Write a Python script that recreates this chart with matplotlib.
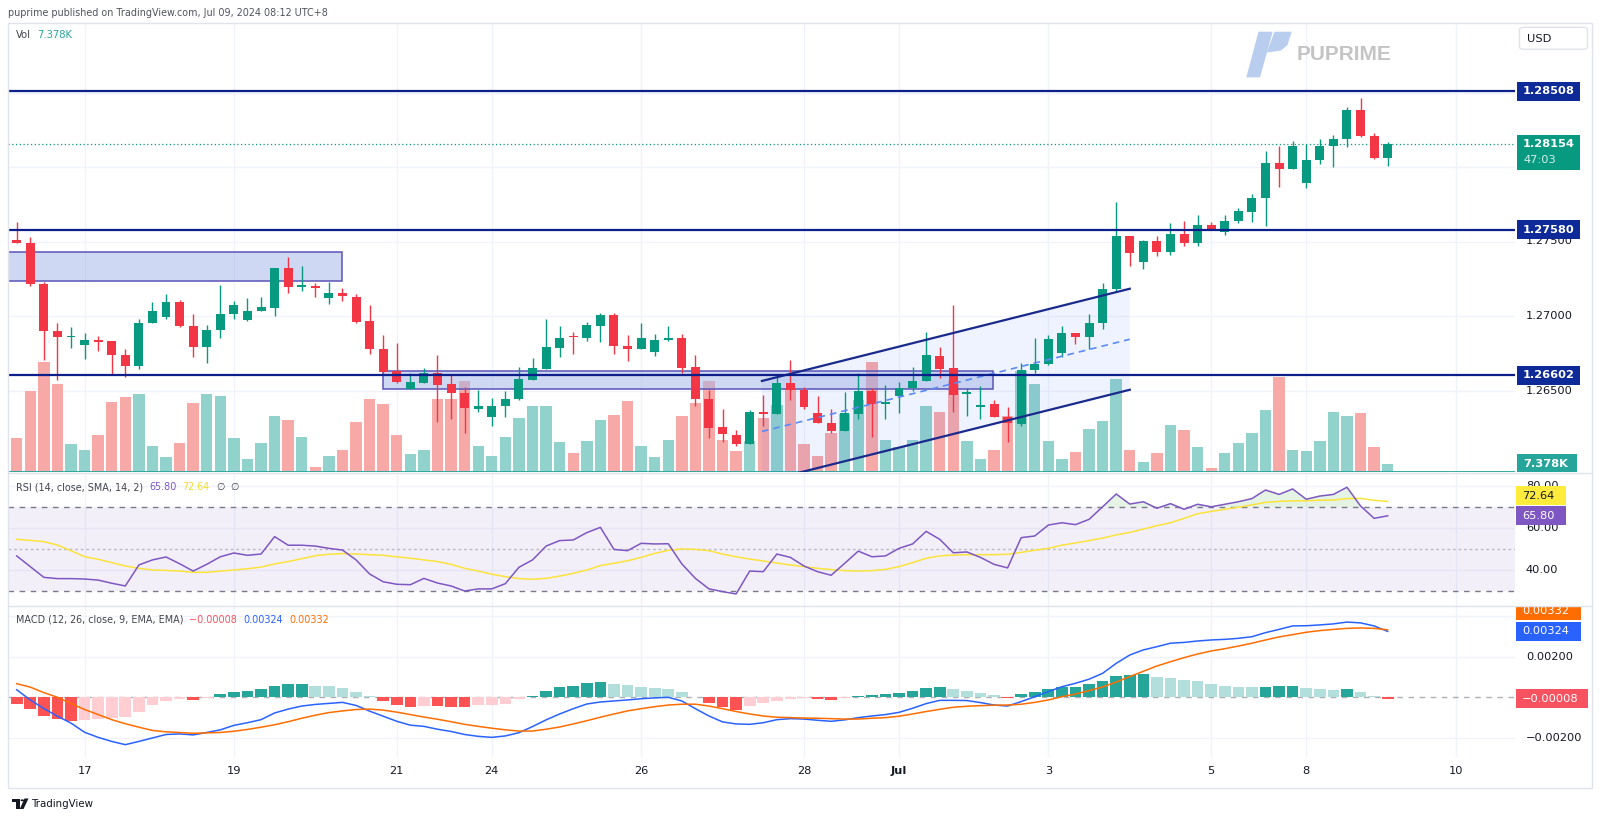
import matplotlib
matplotlib.use('Agg')
import matplotlib.pyplot as plt
from matplotlib.patches import Rectangle, Polygon, FancyBboxPatch, Circle
from matplotlib.lines import Line2D
from matplotlib.transforms import blended_transform_factory as blend
import numpy as np

plt.rcParams['font.family'] = ['DejaVu Sans']

# ---------------- data (GBPUSD 4H) ----------------
opens = [1.27507, 1.27492, 1.27213, 1.26899, 1.26859, 1.26807, 1.26836, 1.26830, 1.26736, 1.26666,
         1.26951, 1.26993, 1.27094, 1.26935, 1.26794, 1.26906, 1.27015, 1.26973, 1.27036, 1.27056,
         1.27322, 1.27193, 1.27199, 1.27123, 1.27152, 1.27130, 1.26964, 1.26777, 1.26628, 1.26510,
         1.26552, 1.26617, 1.26542, 1.26483, 1.26378, 1.26324, 1.26398, 1.26443, 1.26573, 1.26646,
         1.26787, 1.26869, 1.26854, 1.26935, 1.27007, 1.26797, 1.26777, 1.26760, 1.26841, 1.26854,
         1.26656, 1.26445, 1.26252, 1.26200, 1.26143, 1.26356, 1.26342, 1.26548, 1.26503, 1.26347,
         1.26284, 1.26226, 1.26344, 1.26495, 1.26411, 1.26461, 1.26519, 1.26566, 1.26732, 1.26649,
         1.26479, 1.26387, 1.26407, 1.26324, 1.26275, 1.26638, 1.26678, 1.26750, 1.26884, 1.26861,
         1.26951, 1.27179, 1.27539, 1.27364, 1.27503, 1.27432, 1.27550, 1.27490, 1.27609, 1.27566,
         1.27638, 1.27700, 1.27790, 1.28027, 1.27985, 1.27895, 1.28047, 1.28141, 1.28188, 1.28382,
         1.28210, 1.28062]
highs = [1.27633, 1.27528, 1.27228, 1.26951, 1.26924, 1.26884, 1.26866, 1.26832, 1.26777, 1.26980,
         1.27096, 1.27148, 1.27107, 1.27013, 1.26938, 1.27206, 1.27101, 1.27119, 1.27130, 1.27325,
         1.27398, 1.27336, 1.27219, 1.27230, 1.27186, 1.27146, 1.27072, 1.26872, 1.26821, 1.26615,
         1.26649, 1.26738, 1.26604, 1.26526, 1.26503, 1.26452, 1.26497, 1.26656, 1.26716, 1.26980,
         1.26933, 1.26891, 1.26962, 1.27022, 1.27022, 1.26870, 1.26955, 1.26879, 1.26933, 1.26879,
         1.26736, 1.26503, 1.26374, 1.26235, 1.26369, 1.26468, 1.26597, 1.26705, 1.26526, 1.26463,
         1.26374, 1.26490, 1.26615, 1.26515, 1.26537, 1.26557, 1.26656, 1.26891, 1.26794, 1.27074,
         1.26515, 1.26530, 1.26436, 1.26391, 1.26683, 1.26850, 1.26872, 1.26933, 1.26886, 1.27013,
         1.27219, 1.27767, 1.27540, 1.27507, 1.27537, 1.27626, 1.27636, 1.27676, 1.27629, 1.27676,
         1.27727, 1.27817, 1.28109, 1.28141, 1.28174, 1.28156, 1.28188, 1.28215, 1.28401, 1.28461,
         1.28226, 1.28168]
lows = [1.27490, 1.27203, 1.26705, 1.26570, 1.26783, 1.26711, 1.26765, 1.26609, 1.26593, 1.26642,
        1.26951, 1.26978, 1.26928, 1.26727, 1.26687, 1.26854, 1.26980, 1.26968, 1.27034, 1.27000,
        1.27156, 1.27170, 1.27130, 1.27081, 1.27099, 1.26955, 1.26745, 1.26615, 1.26548, 1.26507,
        1.26548, 1.26291, 1.26309, 1.26213, 1.26354, 1.26262, 1.26324, 1.26435, 1.26570, 1.26646,
        1.26727, 1.26747, 1.26834, 1.26828, 1.26745, 1.26700, 1.26776, 1.26734, 1.26834, 1.26619,
        1.26396, 1.26179, 1.26156, 1.26128, 1.26141, 1.26262, 1.26339, 1.26436, 1.26374, 1.26282,
        1.26213, 1.26225, 1.26307, 1.26190, 1.26311, 1.26347, 1.26499, 1.26564, 1.26582, 1.26358,
        1.26331, 1.26311, 1.26320, 1.26154, 1.26262, 1.26615, 1.26669, 1.26723, 1.26812, 1.26781,
        1.26915, 1.27168, 1.27338, 1.27313, 1.27403, 1.27409, 1.27472, 1.27470, 1.27581, 1.27542,
        1.27622, 1.27629, 1.27606, 1.27868, 1.27984, 1.27857, 1.28020, 1.27998, 1.28136, 1.28199,
        1.28055, 1.28007]
closes = [1.27493, 1.27215, 1.26901, 1.26861, 1.26862, 1.26837, 1.26826, 1.26736, 1.26666, 1.26951,
          1.27036, 1.27094, 1.26933, 1.26794, 1.26906, 1.27013, 1.27076, 1.27036, 1.27058, 1.27322,
          1.27193, 1.27206, 1.27186, 1.27154, 1.27134, 1.26962, 1.26777, 1.26626, 1.26559, 1.26557,
          1.26617, 1.26539, 1.26485, 1.26381, 1.26398, 1.26398, 1.26445, 1.26575, 1.26651, 1.26792,
          1.26854, 1.26862, 1.26942, 1.27007, 1.26797, 1.26777, 1.26854, 1.26841, 1.26854, 1.26653,
          1.26445, 1.26250, 1.26211, 1.26141, 1.26356, 1.26342, 1.26548, 1.26503, 1.26391, 1.26284,
          1.26226, 1.26347, 1.26495, 1.26411, 1.26425, 1.26519, 1.26566, 1.26736, 1.26646, 1.26472,
          1.26490, 1.26403, 1.26324, 1.26280, 1.26638, 1.26676, 1.26846, 1.26884, 1.26861, 1.26951,
          1.27179, 1.27539, 1.27421, 1.27503, 1.27432, 1.27550, 1.27492, 1.27611, 1.27582, 1.27638,
          1.27705, 1.27792, 1.28027, 1.27985, 1.28141, 1.28047, 1.28141, 1.28188, 1.28382, 1.28210,
          1.28062, 1.28154]
volumes_k = [29.3, 70.7, 95.9, 76.2, 24.7, 19.5, 32.3, 60.9, 65.5, 67.9,
             23.0, 12.6, 25.3, 60.3, 67.9, 66.4, 29.9, 11.7, 25.6, 48.2,
             45.0, 30.8, 4.3, 13.5, 19.5, 43.8, 63.2, 58.6, 31.9, 15.2,
             19.5, 63.5, 63.5, 79.4, 22.4, 14.1, 30.8, 47.3, 57.5, 57.5,
             26.2, 16.3, 27.1, 45.0, 49.9, 61.8, 22.4, 12.6, 28.2, 48.4,
             60.3, 79.4, 27.6, 17.8, 26.7, 47.3, 58.3, 72.2, 23.9, 14.1,
             33.7, 50.5, 62.1, 95.9, 28.2, 21.5, 28.2, 57.7, 52.5, 79.4,
             27.3, 11.7, 19.3, 48.2, 88.1, 76.6, 26.7, 10.9, 17.5, 37.5,
             44.7, 80.6, 19.5, 9.1, 16.1, 40.8, 36.5, 22.1, 3.9, 16.1,
             25.6, 33.7, 53.4, 82.5, 19.5, 17.8, 27.3, 52.5, 48.2, 51.6,
             22.1, 7.378]
rsi = [46.7, 41.6, 36.5, 35.9, 35.9, 35.7, 35.2, 33.7, 32.4, 42.4,
       44.8, 46.2, 43.0, 39.5, 42.7, 46.3, 48.1, 47.0, 47.6, 55.9,
       51.8, 51.8, 51.4, 50.3, 49.5, 44.8, 38.1, 34.4, 33.2, 33.0,
       36.0, 33.8, 32.4, 30.0, 31.0, 31.0, 33.5, 41.3, 44.8, 51.4,
       54.0, 54.3, 57.8, 60.3, 49.8, 49.2, 52.7, 52.4, 52.5, 42.9,
       36.0, 31.0, 29.7, 28.6, 39.5, 39.2, 47.6, 46.0, 41.9, 39.2,
       37.5, 43.2, 49.0, 46.3, 46.7, 50.3, 52.4, 58.4, 54.6, 48.2,
       48.6, 46.0, 42.7, 41.0, 55.4, 56.2, 61.4, 62.5, 61.6, 64.1,
       70.1, 76.2, 71.4, 72.5, 69.4, 71.6, 68.9, 71.3, 70.1, 71.3,
       72.5, 74.0, 78.1, 76.0, 78.6, 73.7, 75.2, 76.0, 79.4, 70.5,
       64.6, 65.80]
rsi_sma = [54.6, 54.1, 53.5, 51.9, 49.2, 46.3, 45.1, 43.5, 41.9, 40.8,
           40.0, 39.8, 39.5, 38.9, 38.9, 39.5, 40.0, 40.6, 41.4, 42.9,
           44.0, 45.4, 46.8, 47.5, 47.8, 47.6, 47.3, 47.0, 46.3, 45.6,
           44.8, 44.0, 42.7, 40.8, 39.5, 38.0, 36.8, 35.9, 35.6, 36.0,
           37.1, 38.4, 40.0, 42.1, 43.2, 44.4, 46.0, 47.9, 49.4, 50.0,
           49.8, 49.2, 47.6, 46.3, 45.2, 44.3, 43.3, 42.4, 41.6, 40.8,
           40.2, 39.7, 39.5, 39.7, 40.3, 41.6, 43.5, 45.6, 46.7, 47.1,
           47.3, 47.3, 47.3, 47.5, 48.4, 49.4, 50.3, 51.8, 52.9, 54.0,
           55.2, 56.7, 57.9, 59.5, 61.1, 62.5, 64.6, 66.8, 67.9, 68.9,
           69.9, 71.0, 72.2, 72.7, 72.9, 73.0, 73.2, 73.3, 74.0, 74.1,
           73.2, 72.64]
macd_line = [0.00037, -0.00013, -0.00055, -0.00093, -0.00127, -0.00172, -0.00197, -0.00217, -0.00233, -0.00217,
             -0.00200, -0.00183, -0.00180, -0.00185, -0.00173, -0.00160, -0.00138, -0.00125, -0.00110, -0.00077,
             -0.00058, -0.00043, -0.00035, -0.00030, -0.00025, -0.00040, -0.00068, -0.00093, -0.00118, -0.00137,
             -0.00143, -0.00157, -0.00168, -0.00183, -0.00192, -0.00197, -0.00190, -0.00174, -0.00144, -0.00111,
             -0.00082, -0.00056, -0.00033, -0.00023, -0.00018, -0.00013, -0.00007, -0.00003, 0.00000, -0.00018,
             -0.00056, -0.00092, -0.00121, -0.00131, -0.00133, -0.00125, -0.00110, -0.00105, -0.00107, -0.00113,
             -0.00118, -0.00111, -0.00100, -0.00092, -0.00085, -0.00074, -0.00054, -0.00031, -0.00015, -0.00015,
             -0.00016, -0.00026, -0.00038, -0.00043, -0.00021, 0.00003, 0.00028, 0.00052, 0.00069, 0.00089,
             0.00118, 0.00167, 0.00208, 0.00233, 0.00249, 0.00266, 0.00270, 0.00277, 0.00282, 0.00285,
             0.00290, 0.00298, 0.00318, 0.00334, 0.00351, 0.00352, 0.00356, 0.00361, 0.00370, 0.00366,
             0.00351, 0.00324]
signal_line = [0.00067, 0.00050, 0.00023, 0.00000, -0.00030, -0.00060, -0.00085, -0.00110, -0.00130, -0.00147,
               -0.00163, -0.00170, -0.00173, -0.00177, -0.00175, -0.00173, -0.00167, -0.00158, -0.00147, -0.00135,
               -0.00120, -0.00103, -0.00088, -0.00075, -0.00067, -0.00060, -0.00058, -0.00063, -0.00073, -0.00085,
               -0.00097, -0.00108, -0.00120, -0.00133, -0.00143, -0.00152, -0.00160, -0.00166, -0.00166, -0.00157,
               -0.00146, -0.00131, -0.00115, -0.00098, -0.00082, -0.00067, -0.00056, -0.00046, -0.00038, -0.00034,
               -0.00034, -0.00043, -0.00056, -0.00070, -0.00082, -0.00092, -0.00098, -0.00100, -0.00102, -0.00103,
               -0.00105, -0.00107, -0.00107, -0.00103, -0.00100, -0.00093, -0.00082, -0.00070, -0.00059, -0.00049,
               -0.00044, -0.00041, -0.00039, -0.00038, -0.00034, -0.00025, -0.00013, 0.00003, 0.00016, 0.00033,
               0.00051, 0.00075, 0.00102, 0.00128, 0.00154, 0.00175, 0.00195, 0.00213, 0.00228, 0.00239,
               0.00252, 0.00266, 0.00282, 0.00297, 0.00308, 0.00320, 0.00328, 0.00334, 0.00339, 0.00341,
               0.00339, 0.00332]
macd_hist = [-0.00035, -0.00060, -0.00092, -0.00108, -0.00117, -0.00113, -0.00108, -0.00100, -0.00097, -0.00070,
             -0.00040, -0.00017, -0.00010, -0.00011, -0.00002, 0.00015, 0.00028, 0.00033, 0.00042, 0.00058,
             0.00063, 0.00064, 0.00058, 0.00055, 0.00047, 0.00028, 0.00007, -0.00020, -0.00038, -0.00047,
             -0.00042, -0.00045, -0.00046, -0.00048, -0.00040, -0.00038, -0.00033, -0.00010, 0.00007, 0.00033,
             0.00050, 0.00058, 0.00072, 0.00077, 0.00067, 0.00060, 0.00053, 0.00048, 0.00043, 0.00027,
             0.00003, -0.00027, -0.00047, -0.00063, -0.00043, -0.00030, -0.00018, -0.00007, -0.00002, -0.00007,
             -0.00012, -0.00003, 0.00007, 0.00012, 0.00015, 0.00022, 0.00033, 0.00048, 0.00053, 0.00040,
             0.00032, 0.00023, 0.00012, -0.00005, 0.00015, 0.00028, 0.00043, 0.00052, 0.00053, 0.00067,
             0.00082, 0.00107, 0.00112, 0.00117, 0.00102, 0.00097, 0.00087, 0.00078, 0.00063, 0.00055,
             0.00050, 0.00049, 0.00053, 0.00054, 0.00058, 0.00047, 0.00043, 0.00037, 0.00041, 0.00027,
             0.00008, -0.00008]

tick_pos = [5, 16, 28, 35, 46, 58, 65, 76, 88, 95, 106]
tick_labels = ['17', '19', '21', '24', '26', '28', 'Jul', '3', '5', '8', '10']
key_levels = [1.28508, 1.27580, 1.26602]
price_ticks = [1.285, 1.280, 1.275, 1.270, 1.265]
rsi_ticks = [80, 60, 40]
macd_grid = [0.004, 0.002, -0.002]
macd_ticks = [0.002, -0.002]
zone_start = [-3.0, 27.0]
zone_end = [24.0, 71.95]
zone_bottom = [1.27235, 1.26510]
zone_top = [1.27427, 1.26633]
channel_x = [54.9, 82.0]
channel_upper = [1.26564, 1.27183]
channel_width = 0.00678
countdown = '47:03'

# ---------------- layout (pixels) ----------------
W, H = 1600, 819
fig = plt.figure(figsize=(W / 100, H / 100), dpi=100)
fig.patch.set_facecolor('white')

PL, PR, SR = 8.3, 1515.0, 1592.0
MT, MB = 22.7, 472.0
RT, RB = 474.0, 606.0
CT, CB = 606.0, 757.0
X0_PX, DX_PX = 16.7, 13.574
XL = (PL - X0_PX) / DX_PX
XR = (PR - X0_PX) / DX_PX

main_ylim = (1.27 - (MB - 316.0) / 14900.0, 1.27 + (316.0 - MT) / 14900.0)
vol_ylim = (0.0, 390.0)
rsi_ylim = (70 - (RB - 507.0) / 2.1, 70 + (507.0 - RT) / 2.1)
macd_ylim = (-(CB - 697.3) / 20333.0, (697.3 - CT) / 20333.0)


def box(x0, y0, x1, y1):
    return [x0 / W, 1 - y1 / H, (x1 - x0) / W, (y1 - y0) / H]


ax_vol = fig.add_axes(box(PL, MT, PR, MB))
ax = fig.add_axes(box(PL, MT, PR, MB))
ax_rsi = fig.add_axes(box(PL, RT, PR, RB))
ax_macd = fig.add_axes(box(PL, CT, PR, CB))
s_main = fig.add_axes(box(PR, MT, SR, MB))
s_vol = fig.add_axes(box(PR, MT, SR, MB))
s_rsi = fig.add_axes(box(PR, RT, SR, RB))
s_macd = fig.add_axes(box(PR, CT, SR, CB))

for a in (ax_vol, ax, ax_rsi, ax_macd, s_main, s_vol, s_rsi, s_macd):
    a.set_facecolor('none')
    for sp in a.spines.values():
        sp.set_visible(False)
    a.set_xticks([])
    a.set_yticks([])

GRID = '#f0f3fa'
LBL = '#131722'
o = np.array(opens); h = np.array(highs); l = np.array(lows); c = np.array(closes)
n = len(o)
xi = np.arange(n)
up = c >= o

# ---------------- main pane ----------------
for t in tick_pos:
    for a in (ax_vol, ax_rsi, ax_macd):
        a.axvline(t, color=GRID, lw=1, zorder=0)
tr_grid = blend(ax_vol.transAxes, ax.transData)
for p in price_ticks:
    ax_vol.plot([0, 1], [p, p], transform=tr_grid, color=GRID, lw=1, zorder=0)

vcol = np.where(up, '#92d2cc', '#f7a9a7')
ax_vol.bar(xi, volumes_k, width=0.84, color=vcol, lw=0, zorder=2)
ax_vol.axhline(0, color='#26a69a', lw=1.3, zorder=3)

for zs, ze, zb, zt in zip(zone_start, zone_end, zone_bottom, zone_top):
    ax.add_patch(Rectangle((zs, zb), ze - zs, zt - zb, fc='#a1b3e7', alpha=0.5, ec='none', zorder=2))
    ax.add_patch(Rectangle((zs, zb), ze - zs, zt - zb, fc='none', ec='#5a54b8', lw=1.1, zorder=2.5))

cu = np.array(channel_upper)
cl = cu - channel_width
cm = cu - channel_width / 2
ax.add_patch(Polygon([(channel_x[0], cu[0]), (channel_x[1], cu[1]),
                      (channel_x[1], cl[1]), (channel_x[0], cl[0])],
                     closed=True, fc='#2962ff', alpha=0.07, ec='none', zorder=1.5))

ccol = np.where(up, '#089981', '#f23645')
ax.vlines(xi, l, h, colors=ccol, lw=1, zorder=4)
ax.bar(xi, np.maximum(np.abs(c - o), 0.00005), width=0.66, bottom=np.minimum(o, c),
       color=ccol, lw=0, zorder=5)

ax.plot(channel_x, cu, color='#1a2a8c', lw=1.6, zorder=6)
ax.plot(channel_x, cl, color='#1a2a8c', lw=1.6, zorder=6)
ax.plot(channel_x, cm, color='#5b8af5', lw=1.2, ls=(0, (4, 3)), zorder=6)

for v in key_levels:
    ax.axhline(v, color='#0c1f8a', lw=1.6, zorder=6)
ax.axhline(c[-1], color='#089981', lw=0.9, ls=(0, (1, 2)), zorder=3)

# ---------------- RSI pane ----------------
r = np.array(rsi)
ax_rsi.axhspan(30, 70, color='#7e57c2', alpha=0.09, lw=0, zorder=0.5)
for v in rsi_ticks:
    ax_rsi.axhline(v, color=GRID, lw=1, zorder=0.4)
ax_rsi.axhline(70, color='#787b86', lw=1, ls=(0, (4, 4)), zorder=1)
ax_rsi.axhline(30, color='#787b86', lw=1, ls=(0, (4, 4)), zorder=1)
ax_rsi.axhline(50, color='#787b86', alpha=0.45, lw=1, ls=(0, (2, 2)), zorder=1)
ax_rsi.fill_between(xi, r, 70, where=r > 70, interpolate=True, color='#4caf50', alpha=0.15, lw=0, zorder=1)
ax_rsi.plot(xi, rsi_sma, color='#fbe33a', lw=1.1, zorder=2)
ax_rsi.plot(xi, r, color='#7e57c2', lw=1.1, zorder=3)

# ---------------- MACD pane ----------------
hist = np.array(macd_hist)
prev = np.concatenate([[0.0], hist[:-1]])
hcol = np.where(hist >= 0, np.where(hist > prev, '#26a69a', '#b2dfdb'),
                np.where(hist < prev, '#ff5252', '#ffcdd2'))
for v in macd_grid:
    ax_macd.axhline(v, color=GRID, lw=1, zorder=0.4)
ax_macd.bar(xi, hist, width=0.86, color=hcol, lw=0, zorder=2)
ax_macd.axhline(0, color='#787b86', alpha=0.6, lw=1, ls=(0, (4, 4)), zorder=1)
ax_macd.plot(xi, macd_line, color='#2962ff', lw=1.1, zorder=3)
ax_macd.plot(xi, signal_line, color='#ff6d00', lw=1.1, zorder=3)
ax_macd.set_xticks(tick_pos, tick_labels)
ax_macd.tick_params(axis='x', length=0, pad=6.5, labelsize=8.2, labelcolor=LBL)
for lbl in ax_macd.get_xticklabels():
    if lbl.get_text() == 'Jul':
        lbl.set_fontweight('bold')

# limits
for a in (ax_vol, ax, ax_rsi, ax_macd):
    a.set_xlim(XL, XR)
for a, lim in ((ax_vol, vol_ylim), (ax, main_ylim), (ax_rsi, rsi_ylim), (ax_macd, macd_ylim),
               (s_main, main_ylim), (s_vol, vol_ylim), (s_rsi, rsi_ylim), (s_macd, macd_ylim)):
    a.set_ylim(*lim)
for a in (s_main, s_vol, s_rsi, s_macd):
    a.set_xlim(0, 1)

ppu_main = (MB - MT) / (main_ylim[1] - main_ylim[0])
ppu_vol = (MB - MT) / (vol_ylim[1] - vol_ylim[0])
ppu_rsi = (RB - RT) / (rsi_ylim[1] - rsi_ylim[0])
ppu_macd = (CB - CT) / (macd_ylim[1] - macd_ylim[0])
SW = SR - PR


def fmt(v, d):
    return f'{v:.{d}f}'.replace('-', '\u2212')


def plain(sax, val, text):
    sax.text((1526 - PR) / SW, val, text, transform=blend(sax.transAxes, sax.transData),
             fontsize=8.2, color=LBL, va='center', ha='left', clip_on=True, zorder=2)


def tag(sax, ppu, val, text, fc, tc='white', dy=0.0, bold=True, x0=1517, x1=1580, hpx=19):
    tr = blend(sax.transAxes, sax.transData)
    yc = val + dy / ppu
    sax.add_patch(Rectangle(((x0 - PR) / SW, yc - hpx / 2 / ppu), (x1 - x0) / SW, hpx / ppu,
                            transform=tr, fc=fc, ec='none', zorder=5))
    sax.text((x0 + 6 - PR) / SW, yc, text, transform=tr, color=tc, fontsize=8.2,
             fontweight='bold' if bold else 'normal', va='center', ha='left', clip_on=True, zorder=6)


for p in price_ticks:
    plain(s_main, p, fmt(p, 5))
for v in rsi_ticks:
    plain(s_rsi, v, fmt(v, 2))
for v in macd_ticks:
    plain(s_macd, v, fmt(v, 5))

NAVY = '#0e2a98'
for v in key_levels:
    tag(s_main, ppu_main, v, fmt(v, 5), NAVY)
# last price + countdown
trm = blend(s_main.transAxes, s_main.transData)
s_main.add_patch(Rectangle(((1517 - PR) / SW, c[-1] - 25.5 / ppu_main), 63 / SW, 35 / ppu_main,
                           transform=trm, fc='#089981', ec='none', zorder=5))
s_main.text((1523 - PR) / SW, c[-1], fmt(c[-1], 5), transform=trm, color='white', fontsize=8.2,
            fontweight='bold', va='center', ha='left', zorder=6)
s_main.text((1523 - PR) / SW, c[-1] - 16 / ppu_main, countdown, transform=trm, color='#d6f0ea',
            fontsize=8.2, va='center', ha='left', zorder=6)
tag(s_vol, ppu_vol, volumes_k[-1], f'{volumes_k[-1]:.3f}K', '#26a69a', x0=1517, x1=1577)

tag(s_rsi, ppu_rsi, rsi_sma[-1], fmt(rsi_sma[-1], 2), '#ffeb3b', tc=LBL, dy=5.5, bold=False, x0=1516, x1=1566)
tag(s_rsi, ppu_rsi, rsi[-1], fmt(rsi[-1], 2), '#7e57c2', bold=False, x0=1516, x1=1566)

tag(s_macd, ppu_macd, signal_line[-1], fmt(signal_line[-1], 5), '#ff6d00', dy=19, bold=False, x0=1516, x1=1581)
tag(s_macd, ppu_macd, macd_line[-1], fmt(macd_line[-1], 5), '#2962ff', bold=False, x0=1516, x1=1581)
tag(s_macd, ppu_macd, macd_hist[-1], fmt(macd_hist[-1], 5), '#f7525f', bold=False, x0=1516, x1=1588)

# ---------------- frame & separators ----------------
fig.add_artist(Rectangle((8 / W, 1 - 788 / H), (1592 - 8) / W, (788 - 22.7) / H,
                         transform=fig.transFigure, fill=False, ec='#e0e3eb', lw=1))
for yy in (473.0, 606.0):
    fig.add_artist(Line2D([8 / W, 1592 / W], [1 - yy / H, 1 - yy / H], transform=fig.transFigure,
                          color='#e0e3eb', lw=1))

# ---------------- texts ----------------
renderer = fig.canvas.get_renderer()


def seq_text(x_px, y_px, parts, size):
    for s, col in parts:
        t = fig.text(x_px / W, 1 - y_px / H, s, color=col, fontsize=size, va='center', ha='left')
        bb = t.get_window_extent(renderer)
        x_px = bb.x1 + 6


fig.text(8 / W, 1 - 13 / H, 'puprime published on TradingView.com, Jul 09, 2024 08:12 UTC+8',
         fontsize=6.9, color='#50535e', va='center', ha='left')
seq_text(16, 35, [('Vol', '#42454f'), (f'{volumes_k[-1]:.3f}K', '#26a69a')], 7.2)
seq_text(16, 487, [('RSI (14, close, SMA, 14, 2)', '#42454f'), (fmt(rsi[-1], 2), '#7e57c2'),
                   (fmt(rsi_sma[-1], 2), '#f2dc2e'), ('\u2205', '#42454f'), ('\u2205', '#42454f')], 6.9)
seq_text(16, 620, [('MACD (12, 26, close, 9, EMA, EMA)', '#42454f'), (fmt(macd_hist[-1], 5), '#f7525f'),
                   (fmt(macd_line[-1], 5), '#2962ff'), (fmt(signal_line[-1], 5), '#ff6d00')], 6.9)

# USD box
fig.add_artist(FancyBboxPatch((1519.5 / W, 1 - 49.3 / H), 68 / W, 22 / H,
                              boxstyle='round,pad=0,rounding_size=0.003', transform=fig.transFigure,
                              fc='white', ec='#e0e3eb', lw=1))
fig.text(1527 / W, 1 - 38.5 / H, 'USD', fontsize=8.2, color=LBL, va='center', ha='left')

# PUPRIME watermark
fig.add_artist(Polygon([[1258.5 / W, 1 - 31.7 / H], [1272.7 / W, 1 - 31.7 / H],
                        [1260.0 / W, 1 - 77.3 / H], [1246.3 / W, 1 - 77.3 / H]],
                       closed=True, transform=fig.transFigure, fc='#b9cdef', ec='none'))
fig.add_artist(Polygon([[1274.5 / W, 1 - 31.7 / H], [1291.7 / W, 1 - 31.7 / H], [1287.5 / W, 1 - 45 / H],
                        [1281 / W, 1 - 50.5 / H], [1266.8 / W, 1 - 52.5 / H]],
                       closed=True, transform=fig.transFigure, fc='#b9cdef', ec='none'))
fig.text(1296.5 / W, 1 - 55 / H, 'PUPRIME', fontsize=15, fontweight='bold', color='#c4c4c4',
         family=['Liberation Sans', 'DejaVu Sans'], va='center', ha='left')

# TradingView footer logo
fig.add_artist(Polygon([[12 / W, 1 - 798.5 / H], [19.5 / W, 1 - 798.5 / H], [19.5 / W, 1 - 809 / H],
                        [16.2 / W, 1 - 809 / H], [16.2 / W, 1 - 801.8 / H], [12 / W, 1 - 801.8 / H]],
                       closed=True, transform=fig.transFigure, fc='#131722', ec='none'))
fig.add_artist(Circle((22.3 / W, 1 - 800.3 / H), 1.8 / W, transform=fig.transFigure, fc='#131722', ec='none'))
fig.add_artist(Polygon([[24.5 / W, 1 - 798.5 / H], [28.5 / W, 1 - 798.5 / H], [23.5 / W, 1 - 809 / H],
                        [19.8 / W, 1 - 809 / H]],
                       closed=True, transform=fig.transFigure, fc='#131722', ec='none'))
fig.text(31 / W, 1 - 804 / H, 'TradingView', fontsize=7.4, color=LBL, va='center', ha='left')

fig.savefig('out.png', dpi=100)
